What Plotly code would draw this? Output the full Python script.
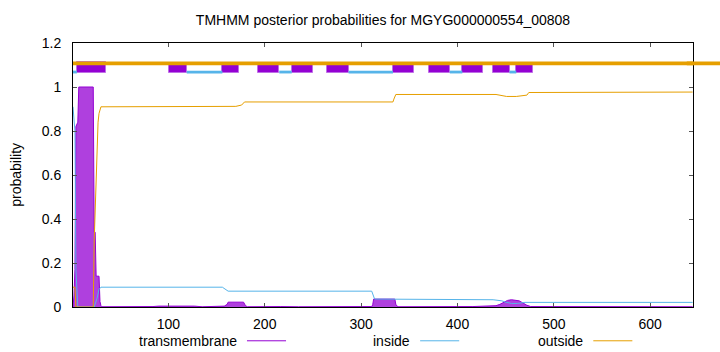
import plotly.graph_objects as go

# ---------------- data ----------------
seq_len = 644.4
chart_title = "TMHMM posterior probabilities for MGYG000000554_00808"

# transmembrane posterior probability
tm_pos = [1, 2, 3, 4, 6, 7, 22, 23, 24, 25, 28, 29, 30, 31, 84, 90, 127, 135,
          158, 161, 162, 178, 180, 182, 216, 231, 235, 311, 312, 313, 335, 336,
          338, 416, 440, 444, 448, 452, 456, 460, 464, 468, 472, 476, 590, 615, 644]
tm_prob = [0, 0.05, 0.17, 0.82, 0.84, 1.0, 1.0, 0.34, 0.34, 0.14, 0.14, 0.025,
           0.006, 0.001, 0.002, 0.004, 0.004, 0.001, 0.004, 0.012, 0.022, 0.022,
           0.006, 0.001, 0.002, 0.003, 0.001, 0.002, 0.01, 0.036, 0.036, 0.012,
           0.001, 0.002, 0.006, 0.012, 0.022, 0.03, 0.033, 0.032, 0.028, 0.018,
           0.008, 0.002, 0.002, 0.003, 0.001]

# inside posterior probability
in_pos = [1, 3, 4, 6, 23, 26, 28, 29, 30, 156, 158, 161, 162, 311, 312, 313, 314,
          437, 442, 446, 450, 456, 462, 466, 470, 644]
in_prob = [0.91, 0.80, 0.17, 0.0, 0.0, 0.04, 0.08, 0.088, 0.09, 0.09, 0.085, 0.075,
           0.072, 0.072, 0.06, 0.04, 0.036, 0.033, 0.032, 0.028, 0.022, 0.016,
           0.016, 0.019, 0.021, 0.021]

# outside posterior probability
out_pos = [1, 3, 4, 22, 23, 24, 25, 26, 27, 28, 29, 30, 170, 172, 176, 179, 333,
           334, 335, 336, 440, 446, 451, 461, 468, 472, 474, 644]
out_prob = [0.09, 0.09, 0.0, 0.0, 0.3, 0.45, 0.6, 0.75, 0.84, 0.88, 0.9, 0.91,
            0.912, 0.915, 0.918, 0.932, 0.932, 0.945, 0.958, 0.966, 0.966, 0.962,
            0.957, 0.957, 0.96, 0.963, 0.975, 0.977]

# topology track
tm_start = [5, 101, 156, 193, 228, 265, 333, 370, 405, 437, 461]
tm_end = [35, 119, 173, 215, 250, 287, 355, 392, 426, 454, 478]
tm_low = [1.064] * 11
tm_high = [1.112] + [1.098] * 10
inside_start = [1, 119, 215, 287, 392, 454]
inside_end = [5, 156, 228, 333, 405, 461]
inside_level = 1.068
outside_level = 1.107

x_ticks = [100, 200, 300, 400, 500, 600]
y_ticks = [0, 0.2, 0.4, 0.6, 0.8, 1.0, 1.2]
y_tick_labels = ["0", "0.2", "0.4", "0.6", "0.8", "1", "1.2"]
y_range = [0, 1.2]
legend_names = ["transmembrane", "inside", "outside"]

# ---------------- styles ----------------
C_TM = "#9400D3"
C_IN = "#56B4E9"
C_OUT = "#E69F00"
FONT = "Liberation Sans, Arial, sans-serif"

fig = go.Figure()

# posterior curves
fig.add_trace(go.Scatter(x=tm_pos, y=tm_prob, mode="lines", fill="tozeroy",
                         line=dict(color=C_TM, width=1),
                         fillcolor="rgba(148,0,211,0.75)", hoverinfo="skip"))
fig.add_trace(go.Scatter(x=in_pos, y=in_prob, mode="lines",
                         line=dict(color=C_IN, width=1), hoverinfo="skip"))
fig.add_trace(go.Scatter(x=out_pos, y=out_prob, mode="lines",
                         line=dict(color=C_OUT, width=1), hoverinfo="skip"))

# topology: outside line
fig.add_trace(go.Scatter(x=[1, seq_len], y=[outside_level, outside_level],
                         mode="lines", line=dict(color=C_OUT, width=3.7),
                         hoverinfo="skip"))
# topology: inside segments
seg_x, seg_y = [], []
for s, e in zip(inside_start, inside_end):
    seg_x += [s, e, None]
    seg_y += [inside_level, inside_level, None]
fig.add_trace(go.Scatter(x=seg_x, y=seg_y, mode="lines",
                         line=dict(color=C_IN, width=2.8), hoverinfo="skip"))
# topology: TM boxes
fig.add_trace(go.Bar(x=[(s + e) / 2 for s, e in zip(tm_start, tm_end)],
                     width=[e - s for s, e in zip(tm_start, tm_end)],
                     base=tm_low,
                     y=[h - l for h, l in zip(tm_high, tm_low)],
                     marker=dict(color=C_TM, line=dict(color="rgba(190,110,230,1)", width=1)),
                     hoverinfo="skip"))

# overhang of the outside line beyond the right border
fig.add_shape(type="line", xref="paper", yref="paper",
              x0=0.99, x1=1.1,
              y0=(outside_level - y_range[0]) / (y_range[1] - y_range[0]),
              y1=(outside_level - y_range[0]) / (y_range[1] - y_range[0]),
              line=dict(color=C_OUT, width=3.7), layer="above")

# custom legend (text followed by sample line, gnuplot style)
leg_text_right = [0.2676, 0.5469, 0.8262]
leg_line_len = 0.063
leg_gap = 0.013
leg_y = -0.128
for name, xr, col in zip(legend_names, leg_text_right, [C_TM, C_IN, C_OUT]):
    fig.add_annotation(x=xr, y=leg_y, xref="paper", yref="paper", text=name,
                       showarrow=False, xanchor="right", yanchor="middle",
                       font=dict(family=FONT, size=14, color="black"))
    fig.add_shape(type="line", xref="paper", yref="paper",
                  x0=xr + leg_gap, x1=xr + leg_gap + leg_line_len,
                  y0=leg_y, y1=leg_y, line=dict(color=col, width=1))

# y axis title
fig.add_annotation(x=-0.0923, y=0.5, xref="paper", yref="paper", text="probability",
                   showarrow=False, textangle=-90, xanchor="center", yanchor="middle",
                   font=dict(family=FONT, size=14, color="black"))

fig.update_layout(
    width=720, height=352,
    margin=dict(l=73, r=27, t=43, b=45),
    paper_bgcolor="white", plot_bgcolor="white",
    showlegend=False, bargap=0,
    font=dict(family=FONT, size=14, color="black"),
    title=dict(text=chart_title, x=0.5, xref="paper", xanchor="center",
               y=1 - 20 / 352, yref="container", yanchor="middle",
               font=dict(family=FONT, size=14, color="black")),
)
fig.update_xaxes(range=[1, seq_len], tickvals=x_ticks, ticks="inside", ticklen=4,
                 tickcolor="#555", showline=True, linecolor="black", linewidth=1,
                 mirror="allticks", showgrid=False, zeroline=False,
                 ticklabelstandoff=4)
fig.update_yaxes(range=y_range, tickvals=y_ticks, ticktext=y_tick_labels,
                 ticks="inside", ticklen=4, tickcolor="#555", showline=True,
                 linecolor="black", linewidth=1, mirror="allticks", showgrid=False,
                 zeroline=False, ticklabelstandoff=8)

fig.write_html("out.html")
